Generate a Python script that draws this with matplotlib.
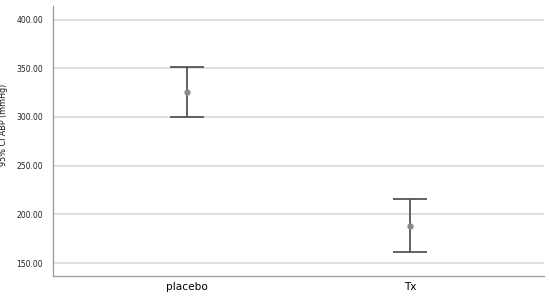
import matplotlib
matplotlib.use("Agg")
import matplotlib.pyplot as plt

groups = ["placebo", "Tx"]
means = [325.7, 188.0]
lower = [300.0, 161.0]
upper = [351.5, 215.4]
yticks = [150, 200, 250, 300, 350, 400]

fig = plt.figure(figsize=(5.5, 2.97), dpi=100)
ax = fig.add_axes([53/550, 1 - 276/297, (544 - 53)/550, (276 - 6)/297])

x = list(range(len(groups)))
err_lo = [m - l for m, l in zip(means, lower)]
err_hi = [u - m for m, u in zip(means, upper)]
ax.errorbar(x, means, yerr=[err_lo, err_hi], fmt='o', color='#8a8a8a', ms=3.5,
            ecolor='#555555', elinewidth=1.3, capsize=12.5, capthick=1.3, zorder=3)

ax.set_xlim(-0.6, 1.6)
ax.set_ylim(136.7, 414)
ax.set_yticks(yticks)
ax.set_yticklabels([f"{v:.2f}" for v in yticks], fontsize=5.5, color='#222222')
ax.set_xticks(x)
ax.set_xticklabels(groups, fontsize=7.6, color='#000000')
ax.tick_params(axis='y', length=0, pad=7)
ax.tick_params(axis='x', length=0, pad=4)
ax.yaxis.grid(True, color='#d9d9d9', linewidth=1.2)
ax.set_axisbelow(True)
for s in ['top', 'right']:
    ax.spines[s].set_visible(False)
for s in ['left', 'bottom']:
    ax.spines[s].set_color('#999999')
    ax.spines[s].set_linewidth(0.9)
ax.set_ylabel("95% CI ABP (mmHg)", fontsize=5.8, color='#111111')
ax.yaxis.set_label_coords((8 - 53) / 491, (276 - 125) / 270)

fig.savefig("out.png", dpi=100)
